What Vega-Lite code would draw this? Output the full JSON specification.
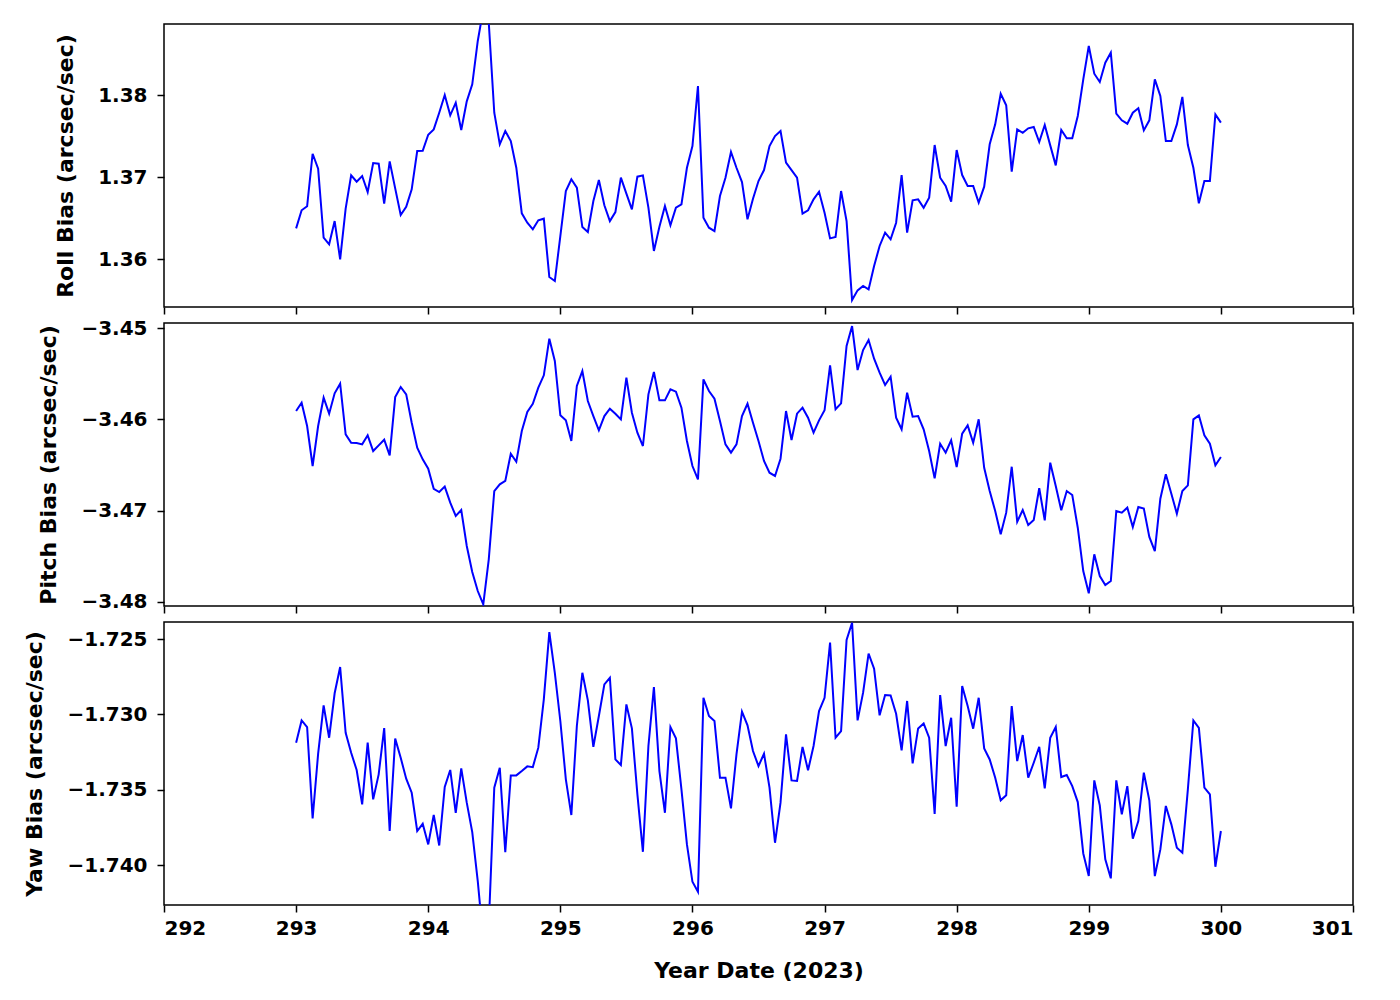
{
"$schema": "https://vega.github.io/schema/vega-lite/v6.json",
"background": "white",
"padding": {"left": 23, "top": 23, "right": 47, "bottom": 5},
"datasets": {"bias": [
{"t":293,"roll":1.36374,"pitch":-3.45909,"yaw":-1.73188},
{"t":293.0417,"roll":1.36594,"pitch":-3.45818,"yaw":-1.7304},
{"t":293.0833,"roll":1.36643,"pitch":-3.46073,"yaw":-1.73084},
{"t":293.125,"roll":1.37284,"pitch":-3.46511,"yaw":-1.7369},
{"t":293.1667,"roll":1.37101,"pitch":-3.46073,"yaw":-1.73261},
{"t":293.2083,"roll":1.3626,"pitch":-3.45763,"yaw":-1.7294},
{"t":293.25,"roll":1.36179,"pitch":-3.45938,"yaw":-1.73155},
{"t":293.2917,"roll":1.36463,"pitch":-3.45715,"yaw":-1.7286},
{"t":293.3333,"roll":1.35996,"pitch":-3.4561,"yaw":-1.72686},
{"t":293.375,"roll":1.36614,"pitch":-3.46164,"yaw":-1.73122},
{"t":293.4167,"roll":1.3702,"pitch":-3.46256,"yaw":-1.73255},
{"t":293.4583,"roll":1.36943,"pitch":-3.46259,"yaw":-1.73369},
{"t":293.5,"roll":1.37012,"pitch":-3.46274,"yaw":-1.73597},
{"t":293.5417,"roll":1.36817,"pitch":-3.46175,"yaw":-1.73188},
{"t":293.5833,"roll":1.37171,"pitch":-3.46347,"yaw":-1.73564},
{"t":293.625,"roll":1.37162,"pitch":-3.46285,"yaw":-1.73398},
{"t":293.6667,"roll":1.36675,"pitch":-3.46223,"yaw":-1.73091},
{"t":293.7083,"roll":1.37191,"pitch":-3.46394,"yaw":-1.73774},
{"t":293.75,"roll":1.36862,"pitch":-3.45756,"yaw":-1.73161},
{"t":293.7917,"roll":1.36537,"pitch":-3.45646,"yaw":-1.73288},
{"t":293.8333,"roll":1.36638,"pitch":-3.45726,"yaw":-1.73427},
{"t":293.875,"roll":1.3685,"pitch":-3.46037,"yaw":-1.7352},
{"t":293.9167,"roll":1.37317,"pitch":-3.46311,"yaw":-1.73774},
{"t":293.9583,"roll":1.3732,"pitch":-3.46438,"yaw":-1.73726},
{"t":294,"roll":1.37516,"pitch":-3.4654,"yaw":-1.73863},
{"t":294.0417,"roll":1.37581,"pitch":-3.4676,"yaw":-1.73668},
{"t":294.0833,"roll":1.37784,"pitch":-3.46796,"yaw":-1.7387},
{"t":294.125,"roll":1.38,"pitch":-3.46737,"yaw":-1.73482},
{"t":294.1667,"roll":1.37752,"pitch":-3.46912,"yaw":-1.73369},
{"t":294.2083,"roll":1.37906,"pitch":-3.47058,"yaw":-1.73653},
{"t":294.25,"roll":1.37573,"pitch":-3.46993,"yaw":-1.73358},
{"t":294.2917,"roll":1.37923,"pitch":-3.47387,"yaw":-1.73586},
{"t":294.3333,"roll":1.3813,"pitch":-3.47672,"yaw":-1.73781},
{"t":294.375,"roll":1.38659,"pitch":-3.4788,"yaw":-1.74106},
{"t":294.4167,"roll":1.39045,"pitch":-3.48026,"yaw":-1.745},
{"t":294.4583,"roll":1.38882,"pitch":-3.47533,"yaw":-1.744},
{"t":294.5,"roll":1.37784,"pitch":-3.46785,"yaw":-1.73486},
{"t":294.5417,"roll":1.37399,"pitch":-3.46711,"yaw":-1.73354},
{"t":294.5833,"roll":1.37561,"pitch":-3.46675,"yaw":-1.73914},
{"t":294.625,"roll":1.37439,"pitch":-3.46376,"yaw":-1.73405},
{"t":294.6667,"roll":1.37113,"pitch":-3.46464,"yaw":-1.73405},
{"t":294.7083,"roll":1.36557,"pitch":-3.46128,"yaw":-1.73376},
{"t":294.75,"roll":1.36443,"pitch":-3.45918,"yaw":-1.73345},
{"t":294.7917,"roll":1.36362,"pitch":-3.45829,"yaw":-1.7335},
{"t":294.8333,"roll":1.36472,"pitch":-3.45653,"yaw":-1.73221},
{"t":294.875,"roll":1.36492,"pitch":-3.45518,"yaw":-1.729},
{"t":294.9167,"roll":1.3578,"pitch":-3.45117,"yaw":-1.72454},
{"t":294.9583,"roll":1.35732,"pitch":-3.45361,"yaw":-1.72724},
{"t":295,"roll":1.3628,"pitch":-3.45956,"yaw":-1.73044},
{"t":295.0417,"roll":1.36829,"pitch":-3.46011,"yaw":-1.73431},
{"t":295.0833,"roll":1.36972,"pitch":-3.46237,"yaw":-1.73668},
{"t":295.125,"roll":1.3687,"pitch":-3.45635,"yaw":-1.73077},
{"t":295.1667,"roll":1.3639,"pitch":-3.45471,"yaw":-1.72724},
{"t":295.2083,"roll":1.36329,"pitch":-3.45799,"yaw":-1.72907},
{"t":295.25,"roll":1.36707,"pitch":-3.45964,"yaw":-1.73215},
{"t":295.2917,"roll":1.36963,"pitch":-3.4612,"yaw":-1.73011},
{"t":295.3333,"roll":1.36655,"pitch":-3.45964,"yaw":-1.72801},
{"t":295.375,"roll":1.36463,"pitch":-3.45883,"yaw":-1.72757},
{"t":295.4167,"roll":1.36573,"pitch":-3.45938,"yaw":-1.73299},
{"t":295.4583,"roll":1.36992,"pitch":-3.46,"yaw":-1.73336},
{"t":295.5,"roll":1.36797,"pitch":-3.45544,"yaw":-1.72934},
{"t":295.5417,"roll":1.36606,"pitch":-3.45927,"yaw":-1.73093},
{"t":295.5833,"roll":1.37004,"pitch":-3.46146,"yaw":-1.73531},
{"t":295.625,"roll":1.3702,"pitch":-3.46292,"yaw":-1.73912},
{"t":295.6667,"roll":1.36626,"pitch":-3.45726,"yaw":-1.7321},
{"t":295.7083,"roll":1.36098,"pitch":-3.45482,"yaw":-1.72819},
{"t":295.75,"roll":1.36394,"pitch":-3.45792,"yaw":-1.73376},
{"t":295.7917,"roll":1.36646,"pitch":-3.45792,"yaw":-1.73653},
{"t":295.8333,"roll":1.36411,"pitch":-3.45672,"yaw":-1.73084},
{"t":295.875,"roll":1.36626,"pitch":-3.45697,"yaw":-1.73159},
{"t":295.9167,"roll":1.36667,"pitch":-3.45872,"yaw":-1.73498},
{"t":295.9583,"roll":1.37113,"pitch":-3.46237,"yaw":-1.73863},
{"t":296,"roll":1.37378,"pitch":-3.46511,"yaw":-1.74111},
{"t":296.0417,"roll":1.3811,"pitch":-3.46657,"yaw":-1.74177},
{"t":296.0833,"roll":1.36504,"pitch":-3.45562,"yaw":-1.7289},
{"t":296.125,"roll":1.36382,"pitch":-3.4569,"yaw":-1.73011},
{"t":296.1667,"roll":1.36341,"pitch":-3.45774,"yaw":-1.73044},
{"t":296.2083,"roll":1.36768,"pitch":-3.46018,"yaw":-1.7342},
{"t":296.25,"roll":1.36992,"pitch":-3.46274,"yaw":-1.7342},
{"t":296.2917,"roll":1.37305,"pitch":-3.46365,"yaw":-1.73624},
{"t":296.3333,"roll":1.37113,"pitch":-3.46274,"yaw":-1.73265},
{"t":296.375,"roll":1.36939,"pitch":-3.45964,"yaw":-1.72982},
{"t":296.4167,"roll":1.36484,"pitch":-3.45829,"yaw":-1.73073},
{"t":296.4583,"roll":1.36736,"pitch":-3.46037,"yaw":-1.73243},
{"t":296.5,"roll":1.36951,"pitch":-3.46237,"yaw":-1.73343},
{"t":296.5417,"roll":1.37085,"pitch":-3.46456,"yaw":-1.73261},
{"t":296.5833,"roll":1.37378,"pitch":-3.46584,"yaw":-1.73486},
{"t":296.625,"roll":1.375,"pitch":-3.4662,"yaw":-1.73852},
{"t":296.6667,"roll":1.37561,"pitch":-3.46431,"yaw":-1.73586},
{"t":296.7083,"roll":1.37175,"pitch":-3.45909,"yaw":-1.73133},
{"t":296.75,"roll":1.37085,"pitch":-3.46226,"yaw":-1.73438},
{"t":296.7917,"roll":1.36992,"pitch":-3.45938,"yaw":-1.73442},
{"t":296.8333,"roll":1.36553,"pitch":-3.45872,"yaw":-1.73216},
{"t":296.875,"roll":1.36594,"pitch":-3.45982,"yaw":-1.73371},
{"t":296.9167,"roll":1.36728,"pitch":-3.46146,"yaw":-1.7321},
{"t":296.9583,"roll":1.36821,"pitch":-3.46011,"yaw":-1.72978},
{"t":297,"roll":1.36565,"pitch":-3.45901,"yaw":-1.7289},
{"t":297.0417,"roll":1.36252,"pitch":-3.45409,"yaw":-1.72524},
{"t":297.0833,"roll":1.36268,"pitch":-3.4589,"yaw":-1.73155},
{"t":297.125,"roll":1.36829,"pitch":-3.45825,"yaw":-1.73111},
{"t":297.1667,"roll":1.36463,"pitch":-3.45197,"yaw":-1.72506},
{"t":297.2083,"roll":1.355,"pitch":-3.44978,"yaw":-1.72392},
{"t":297.25,"roll":1.35618,"pitch":-3.4546,"yaw":-1.7304},
{"t":297.2917,"roll":1.35671,"pitch":-3.45241,"yaw":-1.72856},
{"t":297.3333,"roll":1.3563,"pitch":-3.45131,"yaw":-1.72597},
{"t":297.375,"roll":1.35915,"pitch":-3.45336,"yaw":-1.72697},
{"t":297.4167,"roll":1.36159,"pitch":-3.45489,"yaw":-1.73006},
{"t":297.4583,"roll":1.36321,"pitch":-3.45624,"yaw":-1.72872},
{"t":297.5,"roll":1.3624,"pitch":-3.45533,"yaw":-1.72874},
{"t":297.5417,"roll":1.36443,"pitch":-3.45982,"yaw":-1.72996},
{"t":297.5833,"roll":1.37024,"pitch":-3.46109,"yaw":-1.73239},
{"t":297.625,"roll":1.36321,"pitch":-3.45708,"yaw":-1.72911},
{"t":297.6667,"roll":1.36715,"pitch":-3.45971,"yaw":-1.73325},
{"t":297.7083,"roll":1.36728,"pitch":-3.45964,"yaw":-1.73093},
{"t":297.75,"roll":1.36626,"pitch":-3.46109,"yaw":-1.7306},
{"t":297.7917,"roll":1.36748,"pitch":-3.46347,"yaw":-1.73155},
{"t":297.8333,"roll":1.3739,"pitch":-3.46646,"yaw":-1.7366},
{"t":297.875,"roll":1.36992,"pitch":-3.46267,"yaw":-1.72872},
{"t":297.9167,"roll":1.3689,"pitch":-3.46365,"yaw":-1.7321},
{"t":297.9583,"roll":1.36699,"pitch":-3.4623,"yaw":-1.73022},
{"t":298,"roll":1.37329,"pitch":-3.46522,"yaw":-1.73613},
{"t":298.0417,"roll":1.37024,"pitch":-3.46157,"yaw":-1.72812},
{"t":298.0833,"roll":1.3689,"pitch":-3.46066,"yaw":-1.72945},
{"t":298.125,"roll":1.3689,"pitch":-3.46256,"yaw":-1.73095},
{"t":298.1667,"roll":1.36687,"pitch":-3.46,"yaw":-1.7289},
{"t":298.2083,"roll":1.36882,"pitch":-3.4653,"yaw":-1.73226},
{"t":298.25,"roll":1.37399,"pitch":-3.46785,"yaw":-1.73299},
{"t":298.2917,"roll":1.37642,"pitch":-3.47004,"yaw":-1.7342},
{"t":298.3333,"roll":1.38016,"pitch":-3.47259,"yaw":-1.7357},
{"t":298.375,"roll":1.37874,"pitch":-3.47022,"yaw":-1.73537},
{"t":298.4167,"roll":1.37065,"pitch":-3.46519,"yaw":-1.72945},
{"t":298.4583,"roll":1.37581,"pitch":-3.47121,"yaw":-1.7331},
{"t":298.5,"roll":1.3754,"pitch":-3.46993,"yaw":-1.73137},
{"t":298.5417,"roll":1.37594,"pitch":-3.47157,"yaw":-1.7342},
{"t":298.5833,"roll":1.3761,"pitch":-3.47102,"yaw":-1.73321},
{"t":298.625,"roll":1.37427,"pitch":-3.46755,"yaw":-1.73215},
{"t":298.6667,"roll":1.37634,"pitch":-3.47106,"yaw":-1.73491},
{"t":298.7083,"roll":1.37386,"pitch":-3.46475,"yaw":-1.73155},
{"t":298.75,"roll":1.37142,"pitch":-3.4673,"yaw":-1.73084},
{"t":298.7917,"roll":1.37573,"pitch":-3.46996,"yaw":-1.73416},
{"t":298.8333,"roll":1.37472,"pitch":-3.46785,"yaw":-1.73403},
{"t":298.875,"roll":1.37472,"pitch":-3.46829,"yaw":-1.73476},
{"t":298.9167,"roll":1.37744,"pitch":-3.47187,"yaw":-1.73582},
{"t":298.9583,"roll":1.38191,"pitch":-3.47661,"yaw":-1.73923},
{"t":299,"roll":1.38598,"pitch":-3.47905,"yaw":-1.74073},
{"t":299.0417,"roll":1.3826,"pitch":-3.47478,"yaw":-1.73438},
{"t":299.0833,"roll":1.38159,"pitch":-3.47716,"yaw":-1.73604},
{"t":299.125,"roll":1.38394,"pitch":-3.47814,"yaw":-1.73962},
{"t":299.1667,"roll":1.38516,"pitch":-3.4777,"yaw":-1.74088},
{"t":299.2083,"roll":1.37772,"pitch":-3.47004,"yaw":-1.73438},
{"t":299.25,"roll":1.37691,"pitch":-3.47022,"yaw":-1.73663},
{"t":299.2917,"roll":1.3765,"pitch":-3.46967,"yaw":-1.73476},
{"t":299.3333,"roll":1.37784,"pitch":-3.47179,"yaw":-1.73825},
{"t":299.375,"roll":1.37838,"pitch":-3.4696,"yaw":-1.73708},
{"t":299.4167,"roll":1.37569,"pitch":-3.46978,"yaw":-1.73387},
{"t":299.4583,"roll":1.37691,"pitch":-3.47288,"yaw":-1.7357},
{"t":299.5,"roll":1.38191,"pitch":-3.47442,"yaw":-1.74073},
{"t":299.5417,"roll":1.37988,"pitch":-3.46869,"yaw":-1.73896},
{"t":299.5833,"roll":1.37439,"pitch":-3.46602,"yaw":-1.73608},
{"t":299.625,"roll":1.37439,"pitch":-3.46814,"yaw":-1.7373},
{"t":299.6667,"roll":1.37642,"pitch":-3.47033,"yaw":-1.73885},
{"t":299.7083,"roll":1.37976,"pitch":-3.46785,"yaw":-1.73918},
{"t":299.75,"roll":1.3739,"pitch":-3.46723,"yaw":-1.73498},
{"t":299.7917,"roll":1.37113,"pitch":-3.46,"yaw":-1.7304},
{"t":299.8333,"roll":1.36679,"pitch":-3.45956,"yaw":-1.73089},
{"t":299.875,"roll":1.36951,"pitch":-3.46175,"yaw":-1.73486},
{"t":299.9167,"roll":1.36951,"pitch":-3.46267,"yaw":-1.73531},
{"t":299.9583,"roll":1.37764,"pitch":-3.46503,"yaw":-1.74011},
{"t":300,"roll":1.37663,"pitch":-3.46412,"yaw":-1.73774}
]},
"data": {"name": "bias"},
"config": {
  "view": {"stroke": "black", "strokeWidth": 1.5},
  "axis": {"domain": false, "grid": false, "ticks": true, "tickColor": "black", "tickWidth": 1.5, "tickSize": 7,
    "labelFont": "DejaVu Sans", "labelFontWeight": "bold", "labelFontSize": 20, "labelColor": "black", "labelPadding": 10,
    "titleFont": "DejaVu Sans", "titleFontWeight": "bold", "titleFontSize": 22, "titleColor": "black", "titlePadding": 20}
},
"bounds": "flush",
"spacing": 16,
"vconcat": [
  {"width": 1189, "height": 283, "mark": {"type": "line", "color": "#0000ff", "strokeWidth": 2, "clip": true},
   "encoding": {
     "x": {"field": "t", "type": "quantitative", "scale": {"domain": [292, 301], "nice": false, "zero": false},
           "axis": {"values": [292,293,294,295,296,297,298,299,300,301], "labels": false, "labelPadding": 0, "title": null}},
     "y": {"field": "roll", "type": "quantitative", "scale": {"domain": [1.35415, 1.38866], "nice": false, "zero": false},
           "axis": {"values": [1.36, 1.37, 1.38], "format": ".2f", "title": "Roll Bias (arcsec/sec)"}}
   }},
  {"width": 1189, "height": 283, "mark": {"type": "line", "color": "#0000ff", "strokeWidth": 2, "clip": true},
   "encoding": {
     "x": {"field": "t", "type": "quantitative", "scale": {"domain": [292, 301], "nice": false, "zero": false},
           "axis": {"values": [292,293,294,295,296,297,298,299,300,301], "labels": false, "labelPadding": 0, "title": null}},
     "y": {"field": "pitch", "type": "quantitative", "scale": {"domain": [-3.48044, -3.44945], "nice": false, "zero": false},
           "axis": {"values": [-3.48, -3.47, -3.46, -3.45], "format": ".2f", "title": "Pitch Bias (arcsec/sec)"}}
   }},
  {"width": 1189, "height": 283, "mark": {"type": "line", "color": "#0000ff", "strokeWidth": 2, "clip": true},
   "encoding": {
     "x": {"field": "t", "type": "quantitative", "scale": {"domain": [292, 301], "nice": false, "zero": false},
           "axis": {"values": [292,293,294,295,296,297,298,299,300,301], "format": "d", "labelPadding": 6, "titlePadding": 22, "title": "Year Date (2023)"}},
     "y": {"field": "yaw", "type": "quantitative", "scale": {"domain": [-1.74265, -1.72387], "nice": false, "zero": false},
           "axis": {"values": [-1.74, -1.735, -1.73, -1.725], "format": ".3f", "title": "Yaw Bias (arcsec/sec)"}}
   }}
]
}
